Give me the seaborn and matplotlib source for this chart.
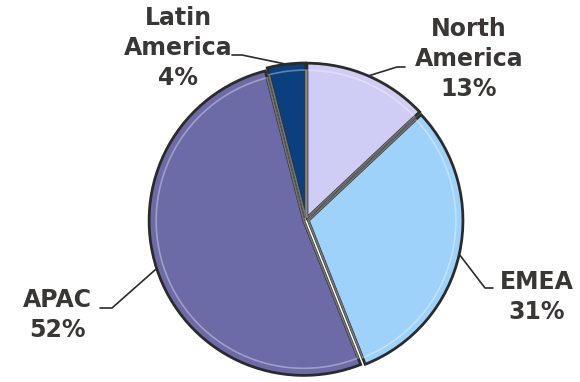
import numpy as np
import matplotlib
matplotlib.use("Agg")
import matplotlib.pyplot as plt
import seaborn as sns

# Region shares (percent), clockwise from 12 o'clock
regions = ["North America", "EMEA", "APAC", "Latin America"]
shares = [13, 31, 52, 4]
colors = ["#CFCCF5", "#9FD2FA", "#6C6BA8", "#0B3F7E"]

sns.set_style("white")
plt.rcParams['font.family'] = ['DejaVu Sans']

fig = plt.figure(figsize=(5.8, 3.82), dpi=100)
ax = fig.add_axes([0, 0, 1, 1])

# pixel -> data mapping (pie centre at px (306, 220), radius 157 px)
cx, cy, rpx = 306, 220, 157
def px(x, y):
    return (x - cx) / rpx, (cy - y) / rpx

wedges, _ = ax.pie(shares, colors=colors, startangle=90, counterclock=False,
                   radius=0.985, explode=[0.015] * 4,
                   wedgeprops=dict(edgecolor="#2b2b2b", linewidth=2.0))
# inner bevel highlight
ax.pie(shares, colors=["none"] * 4, startangle=90, counterclock=False,
       radius=0.94, explode=[0.015] * 4,
       wedgeprops=dict(edgecolor="white", linewidth=1.2, alpha=0.35))

ax.set_xlim(-cx / rpx, (580 - cx) / rpx)
ax.set_ylim(-(382 - cy) / rpx, cy / rpx)
ax.set_aspect("auto")
ax.axis("off")

# label layout: text centre, elbow, end of leader (pixels)
layout = {
    "North America": dict(text=(469, 59), elbow=(397, 67), end=(405, 67)),
    "EMEA": dict(text=(537, 297), elbow=(485, 288), end=(493, 288)),
    "APAC": dict(text=(57, 315), elbow=(112, 308), end=(100, 308)),
    "Latin America": dict(text=(178, 48), elbow=(242, 55), end=(232, 55)),
}
labels = {"North America": "North\nAmerica", "EMEA": "EMEA",
          "APAC": "APAC", "Latin America": "Latin\nAmerica"}

tc = "#3a3636"
for w, name, s in zip(wedges, regions, shares):
    ang = np.deg2rad((w.theta1 + w.theta2) / 2)
    x0, y0 = np.cos(ang) * 1.0, np.sin(ang) * 1.0
    lay = layout[name]
    ex, ey = px(*lay["elbow"])
    fx, fy = px(*lay["end"])
    ax.plot([x0, ex, fx], [y0, ey, fy], color="#2b2b2b", lw=1.2)
    tx, ty = px(*lay["text"])
    ax.text(tx, ty, f"{labels[name]}\n{s}%", ha="center", va="center",
            fontsize=17, fontweight="bold", color=tc, linespacing=1.32)

fig.savefig("out.png", dpi=100)
